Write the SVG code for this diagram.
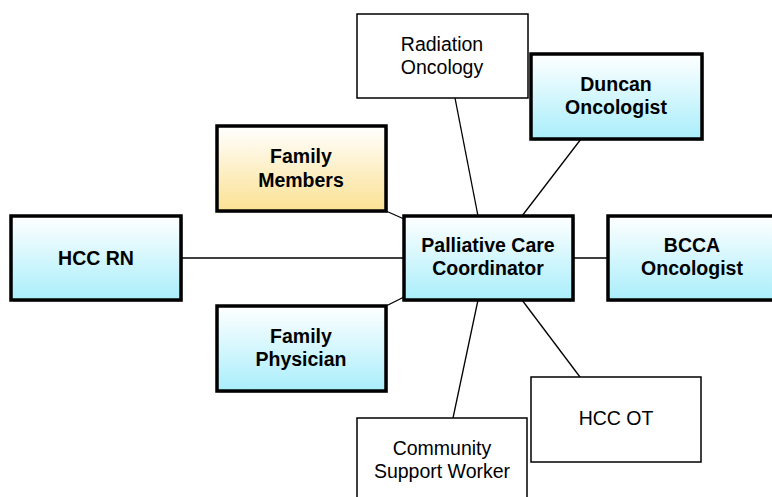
<svg xmlns="http://www.w3.org/2000/svg" width="772" height="497" viewBox="0 0 772 497">
<defs>
<linearGradient id="gc" x1="0" y1="0" x2="0" y2="1"><stop offset="0" stop-color="#ffffff"/><stop offset="1" stop-color="#a9eefb"/></linearGradient>
<linearGradient id="gy" x1="0" y1="0" x2="0" y2="1"><stop offset="0" stop-color="#ffffff"/><stop offset="1" stop-color="#fbe193"/></linearGradient>
<style>
.b{stroke:#000;stroke-width:3.5}
.t{stroke:#000;stroke-width:1.5;fill:#fff}
.sh{fill:#000;opacity:0.18}
.lb{font-family:"Liberation Sans",Arial,sans-serif;font-size:19.5px;font-weight:bold;text-anchor:middle;fill:#000}
.lt{font-family:"Liberation Sans",Arial,sans-serif;font-size:19.5px;text-anchor:middle;fill:#000}
.c{stroke:#000;stroke-width:1.3;fill:none}
</style>
</defs>
<rect width="772" height="497" fill="#fff"/>
<g id="connectors">
<line class="c" x1="182" y1="258" x2="404" y2="258"/>
<line class="c" x1="573" y1="258" x2="608" y2="258"/>
<line class="c" x1="455" y1="98" x2="478" y2="216"/>
<line class="c" x1="581" y1="139" x2="522" y2="216"/>
<line class="c" x1="386" y1="211" x2="404" y2="219"/>
<line class="c" x1="386" y1="306" x2="404" y2="297"/>
<line class="c" x1="478" y1="300" x2="453" y2="418"/>
<line class="c" x1="522" y1="300" x2="580" y2="377"/>
</g>
<g id="radiation">
<rect class="t" x="357" y="14" width="171" height="84"/>
<text class="lt" x="442" y="51">Radiation</text>
<text class="lt" x="442" y="74">Oncology</text>
</g>
<g id="duncan">
<rect class="sh" x="533" y="56" width="171" height="85"/>
<rect class="b" x="531" y="54" width="171" height="85" fill="url(#gc)"/>
<text class="lb" x="616" y="91">Duncan</text>
<text class="lb" x="616" y="114">Oncologist</text>
</g>
<g id="family-members">
<rect class="sh" x="219" y="128" width="169" height="85"/>
<rect class="b" x="217" y="126" width="169" height="85" fill="url(#gy)"/>
<text class="lb" x="301" y="163">Family</text>
<text class="lb" x="301" y="187">Members</text>
</g>
<g id="hcc-rn">
<rect class="sh" x="13" y="218" width="170" height="84"/>
<rect class="b" x="11" y="216" width="170" height="84" fill="url(#gc)"/>
<text class="lb" x="96" y="265">HCC RN</text>
</g>
<g id="palliative">
<rect class="sh" x="406" y="218" width="169" height="84"/>
<rect class="b" x="404" y="216" width="169" height="84" fill="url(#gc)"/>
<text class="lb" x="488" y="252">Palliative Care</text>
<text class="lb" x="488" y="275">Coordinator</text>
</g>
<g id="bcca">
<rect class="sh" x="610" y="218" width="170" height="84"/>
<rect class="b" x="608" y="216" width="170" height="84" fill="url(#gc)"/>
<text class="lb" x="692" y="252">BCCA</text>
<text class="lb" x="692" y="275">Oncologist</text>
</g>
<g id="family-physician">
<rect class="sh" x="219" y="308" width="169" height="85"/>
<rect class="b" x="217" y="306" width="169" height="85" fill="url(#gc)"/>
<text class="lb" x="301" y="343">Family</text>
<text class="lb" x="301" y="366">Physician</text>
</g>
<g id="hcc-ot">
<rect class="t" x="531" y="377" width="170" height="85"/>
<text class="lt" x="616" y="425">HCC OT</text>
</g>
<g id="community">
<rect class="t" x="357" y="418" width="170" height="90"/>
<text class="lt" x="442" y="455">Community</text>
<text class="lt" x="442" y="478">Support Worker</text>
</g>
</svg>
